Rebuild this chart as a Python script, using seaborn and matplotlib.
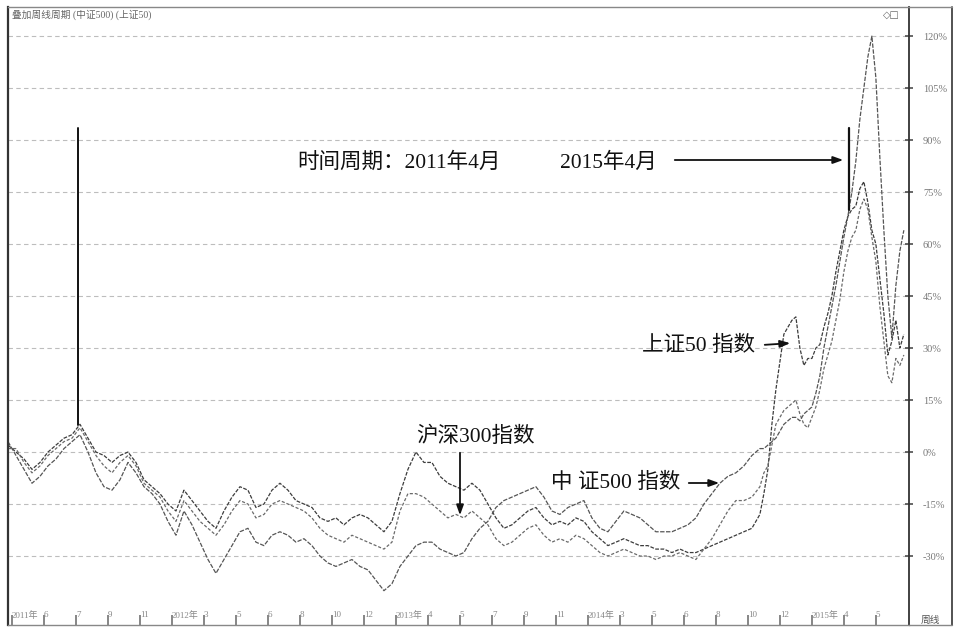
import numpy as np
import pandas as pd
import matplotlib
matplotlib.use("Agg")
import matplotlib.pyplot as plt
import seaborn as sns
from matplotlib.lines import Line2D

# ---------------- data (percent change vs. start) ----------------
start = pd.Timestamp("2011-04-01")
dates = list(pd.date_range(start, periods=95, freq="14D")) + \
        list(pd.date_range(start + pd.Timedelta(days=1323), periods=36, freq="7D"))

sz50 = [2, 0, -2, -5, -3, 0, 2, 4, 5, 8,
        4, 0, -1, -3, -1, 0, -3, -8, -10, -12,
        -15, -17, -11, -14, -17, -20, -22, -17, -13, -10,
        -11, -16, -15, -11, -9, -11, -14, -15, -16, -19,
        -20, -19, -21, -19, -18, -19, -21, -23, -20, -12,
        -5, 0, -3, -3, -7, -9, -10, -11, -9, -11,
        -15, -19, -22, -21, -19, -17, -16, -19, -21, -20,
        -21, -19, -20, -23, -25, -27, -26, -25, -26, -27,
        -27, -28, -28, -29, -28, -29, -29, -28, -27, -26,
        -25, -24, -23, -22, -18,
        -12, -5, 8, 18, 26, 34, 36, 38, 39, 30, 25, 27, 27, 30, 31, 36, 40, 45,
        52, 58, 64, 68, 70, 71, 76, 78, 72, 64, 60, 50, 40, 28, 32, 38, 30, 34]

hs300 = [1, 1, -3, -6, -4, -1, 1, 3, 4, 7,
         3, -1, -4, -6, -3, -1, -4, -9, -11, -13,
         -17, -20, -14, -17, -20, -22, -24, -21, -17, -14,
         -15, -19, -18, -15, -14, -15, -16, -17, -19, -22,
         -24, -25, -26, -24, -25, -26, -27, -28, -26, -17,
         -12, -12, -13, -15, -17, -19, -18, -19, -17, -19,
         -21, -25, -27, -26, -24, -22, -21, -24, -26, -25,
         -26, -24, -25, -27, -29, -30, -29, -28, -29, -30,
         -30, -31, -30, -30, -29, -30, -31, -28, -25, -21,
         -17, -14, -14, -13, -10,
         -6, -4, 2, 8, 10, 12, 13, 14, 15, 11, 8, 7, 10, 13, 18, 24, 28, 32,
         38, 44, 52, 58, 62, 64, 70, 73, 70, 62, 55, 42, 32, 22, 20, 27, 25, 28]

zz500 = [3, -1, -5, -9, -7, -4, -2, 1, 3, 5,
         0, -6, -10, -11, -8, -3, -6, -10, -12, -15,
         -20, -24, -17, -21, -26, -31, -35, -31, -27, -23,
         -22, -26, -27, -24, -23, -24, -26, -25, -27, -30,
         -32, -33, -32, -31, -33, -34, -37, -40, -38, -33,
         -30, -27, -26, -26, -28, -29, -30, -29, -25, -22,
         -20, -16, -14, -13, -12, -11, -10, -13, -17, -18,
         -16, -15, -14, -19, -22, -23, -20, -17, -18, -19,
         -21, -23, -23, -23, -22, -21, -19, -15, -12, -9,
         -7, -6, -4, -1, 1,
         1, 2, 3, 4, 6, 8, 9, 10, 10, 9, 11, 12, 13, 17, 22, 30, 36, 42,
         48, 55, 62, 68, 75, 84, 96, 105, 114, 120, 108, 85, 64, 45, 33, 48, 58, 64]

series_names = ["上证50", "沪深300", "中证500"]
ytick_vals = [-30, -15, 0, 15, 30, 45, 60, 75, 90, 105, 120]

df = pd.concat([
    pd.DataFrame({"date": dates, "pct": sz50, "index": series_names[0]}),
    pd.DataFrame({"date": dates, "pct": hs300, "index": series_names[1]}),
    pd.DataFrame({"date": dates, "pct": zz500, "index": series_names[2]}),
], ignore_index=True)

# ---------------- figure ----------------
sns.set_theme(style="white")
plt.rcParams["font.family"] = ["Liberation Serif", "Noto Sans CJK SC", "DejaVu Sans"]

W, H = 960, 634
fig = plt.figure(figsize=(9.6, 6.34), dpi=100)
fig.patch.set_facecolor("white")

def P(x, y):
    return (x / W, 1 - y / H)

ax = fig.add_axes([8 / W, 1 - 625 / H, (909 - 8) / W, (625 - 7) / H])

sns.lineplot(data=df, x="date", y="pct", hue="index", style="index",
             palette={"上证50": "#3c3c3c", "沪深300": "#6a6a6a", "中证500": "#555555"},
             dashes={"上证50": (3, 1.2), "沪深300": (2.5, 1.5), "中证500": (3.5, 1.2)},
             linewidth=0.9, legend=False, ax=ax)

ax.set_xlim(start, start + pd.Timedelta(days=1577))
ax.set_ylim(-49.9, 128.4)

# grid
for v in ytick_vals:
    ax.axhline(v, color="#bdbdbd", lw=0.8, ls=(0, (4, 3)), zorder=0)

# y axis on right
ax.yaxis.tick_right()
ax.set_yticks(ytick_vals)
ax.set_yticklabels([f"{v}%" for v in ytick_vals], color="#777777", fontsize=7.5)
ax.tick_params(axis="y", which="both", right=True, direction="inout", length=6,
               pad=7, color="#555555")

# x ticks (inside, near bottom)
tick_dates = list(pd.date_range(pd.Timestamp("2011-04-08"), pd.Timestamp("2015-07-10"), freq="56D"))
tick_labels = []
prev_year = None
for d in tick_dates:
    if d.year != prev_year:
        tick_labels.append(f"{d.year}年")
        prev_year = d.year
    else:
        tick_labels.append(str(d.month))
ax.set_xticks(tick_dates)
ax.set_xticklabels(tick_labels, color="#888888", fontsize=6.5, ha="left")
ax.tick_params(axis="x", bottom=True, direction="in", length=7, pad=-10, color="#777777")
ax.set_xlabel("")
ax.set_ylabel("")

for side in ["left", "right", "top", "bottom"]:
    ax.spines[side].set_visible(True)
    ax.spines[side].set_color("#333333")
ax.spines["left"].set_linewidth(1.6)
ax.spines["right"].set_linewidth(1.3)
ax.spines["bottom"].set_linewidth(1.0)
ax.spines["top"].set_linewidth(1.0)
ax.spines["bottom"].set_color("#888888")
ax.spines["top"].set_color("#888888")

# outer frame on right of the value axis
fig.add_artist(Line2D([P(952, 0)[0]] * 2, [P(0, 7)[1], P(0, 625)[1]], color="#444444", lw=1.3))
fig.add_artist(Line2D([P(909, 0)[0], P(952, 0)[0]], [P(0, 7)[1]] * 2, color="#888888", lw=1.0))
fig.add_artist(Line2D([P(909, 0)[0], P(952, 0)[0]], [P(0, 625)[1]] * 2, color="#888888", lw=1.0))

# header texts
fig.text(*P(12, 15), "叠加周线周期 (中证500) (上证50)", fontsize=7, color="#666666",
         va="center", ha="left")
fig.text(*P(900, 15), "◇□", fontsize=7, color="#666666", va="center", ha="right",
         family=["DejaVu Sans"])
fig.text(*P(930, 620), "周线", fontsize=7, color="#555555", va="center", ha="center")

# annotations
txt_kw = dict(fontsize=15.5, color="#111111", va="center", ha="left")
fig.text(*P(297, 163), "时间周期：2011年4月", **txt_kw)
fig.text(*P(560, 163), "2015年4月", **txt_kw)
fig.text(*P(416, 437), "沪深300指数", **txt_kw)
fig.text(*P(551, 483), "中 证500 指数", **txt_kw)
fig.text(*P(642, 346), "上证50 指数", **txt_kw)

fig.add_artist(Line2D([P(78, 0)[0]] * 2, [P(0, 128)[1], P(0, 425)[1]], color="#111111", lw=1.4))
fig.add_artist(Line2D([P(849, 0)[0]] * 2, [P(0, 128)[1], P(0, 210)[1]], color="#111111", lw=1.6))

arrow_kw = dict(arrowstyle="-|>,head_length=0.5,head_width=0.18", color="#111111", lw=1.3)
for (x0, y0), (x1, y1) in [((672, 160), (846, 160)),
                           ((460, 450), (460, 518)),
                           ((686, 483), (722, 483)),
                           ((762, 345), (793, 343))]:
    ax.annotate("", xy=P(x1, y1), xycoords="figure fraction",
                xytext=P(x0, y0), textcoords="figure fraction",
                arrowprops=arrow_kw)

fig.savefig("out.png", dpi=100, facecolor="white")
